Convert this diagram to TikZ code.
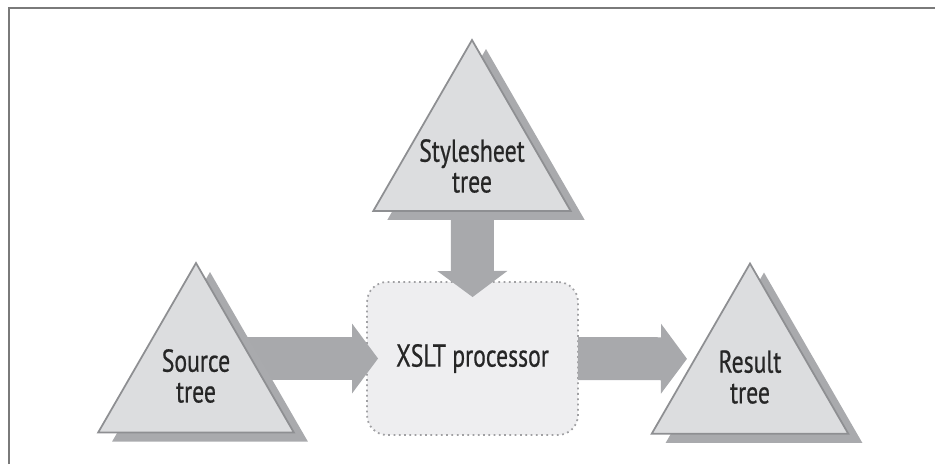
\documentclass[tikz,border=0pt]{standalone}
\usepackage{fontspec}
\setmainfont{PT Sans}[FakeStretch=0.75,FakeBold=0.6]
\usetikzlibrary{shapes.geometric,arrows.meta,shadows,calc}
\definecolor{treefill}{HTML}{DCDDDF}
\definecolor{treeline}{HTML}{8E8F92}
\definecolor{treeshade}{HTML}{A9AAAD}
\definecolor{arrowgray}{HTML}{A8A9AC}
\definecolor{procfill}{HTML}{EEEEF0}
\definecolor{procline}{HTML}{A0A0A3}
\definecolor{textgray}{HTML}{262626}
\definecolor{framegray}{HTML}{7A7A7A}
\pgfdeclarelayer{back}
\pgfdeclarelayer{mid}
\pgfsetlayers{back,mid,main}

\begin{document}
\begin{tikzpicture}[x=0.02cm,y=-0.02cm,
    tree/.style={regular polygon,regular polygon sides=3,draw=treeline,line width=1pt,
      fill=treefill,inner sep=0pt,outer sep=0pt,
      drop shadow={shadow xshift=0.28cm,shadow yshift=-0.18cm,fill=treeshade,opacity=1}},
    lbl/.style={align=center,font=\fontsize{18}{17.5}\selectfont,text=textgray},
    blockarrow/.style={line width=0.86cm,draw=arrowgray,
      -{Triangle[length=0.52cm,width=1.4cm,line width=0pt]}}]
  \useasboundingbox (0,0) rectangle (935,464);
  \draw[framegray,line width=0.04cm] (9,464) -- (9,8) -- (935,8);

  \begin{pgfonlayer}{back}
    \node[draw=procline,fill=procfill,dotted,line width=1pt,rounded corners=0.4cm,
      minimum width=4.22cm,minimum height=3.06cm,outer sep=0pt,lbl] (proc) at (472.5,358.5) {XSLT processor};
  \end{pgfonlayer}

  \node[tree,minimum size=4.56cm] (sty) at (472,154) {};
  \node[tree,minimum size=4.52cm] (src) at (196,376) {};
  \node[tree,minimum size=4.54cm] (res) at (750,377) {};
  \node[lbl] (stylbl) at (472,166) {Stylesheet\\tree};
  \node[lbl] (srclbl) at (src.center) {Source\\tree};
  \node[lbl] (reslbl) at (res.center) {Result\\tree};

  \begin{pgfonlayer}{mid}
    \draw[blockarrow,shorten >=-0.22cm] (src.center |- proc.west) -- (proc.west);
    \draw[blockarrow,shorten >=-0.30cm] (sty.center) -- (proc.north);
    \draw[blockarrow,shorten >=0.16cm] (proc.east) -- ($(res.corner 1)!0.56!(res.corner 2)$ |- proc.east);
  \end{pgfonlayer}
\end{tikzpicture}
\end{document}
